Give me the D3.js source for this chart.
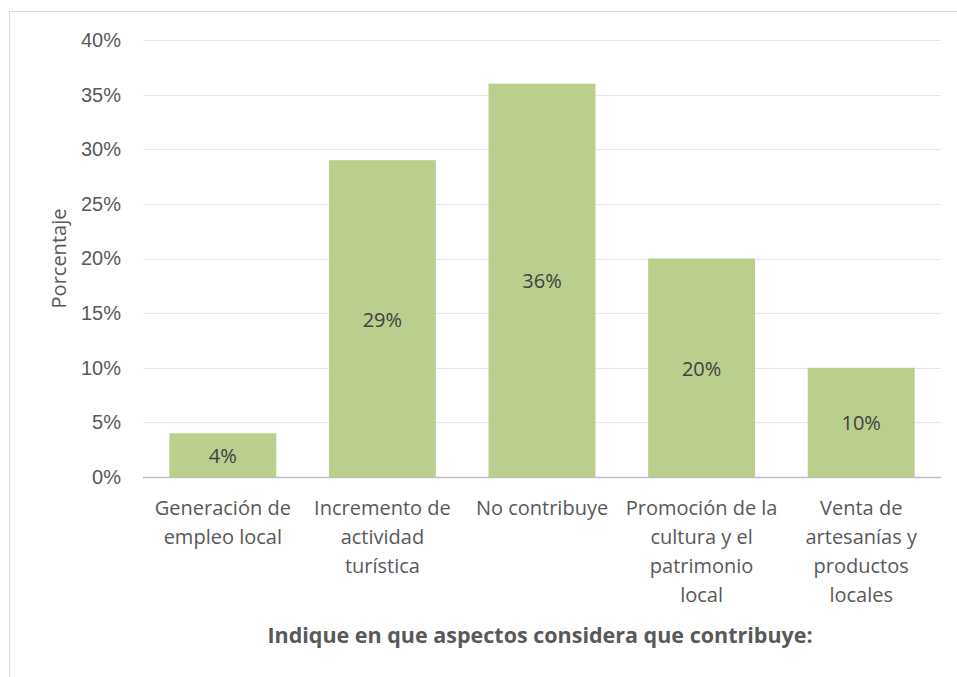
<!DOCTYPE html>
<html>
<head>
<meta charset="utf-8">
<script src="https://cdn.jsdelivr.net/npm/d3@7"></script>
<style>
  body { margin: 0; background: #fff; }
  svg { font-family: "Open Sans", sans-serif; }
</style>
</head>
<body>
<svg width="957" height="677"></svg>
<script>
// datos del grafico
var categories = [
    ["Generación de", "empleo local"],
    ["Incremento de", "actividad", "turística"],
    ["No contribuye"],
    ["Promoción de la", "cultura y el", "patrimonio", "local"],
    ["Venta de", "artesanías y", "productos", "locales"]
];
var values = [0.04, 0.29, 0.36, 0.20, 0.10];
var yTicks = [0, 0.05, 0.10, 0.15, 0.20, 0.25, 0.30, 0.35, 0.40];
var xTitle = "Indique en que aspectos considera que contribuye:";
var yTitle = "Porcentaje";

var svg = d3.select("svg"),
    width = +svg.attr("width"),
    height = +svg.attr("height");

var margin = { top: 40, right: 16, bottom: 200, left: 143 };
var textColor = "#595959";

// marco exterior
svg.append("rect")
    .attr("x", 9.5).attr("y", 11.5)
    .attr("width", width + 10).attr("height", height + 10)
    .attr("fill", "none")
    .attr("stroke", "#d9d9d9");

var x = d3.scaleBand()
    .domain(d3.range(values.length))
    .range([margin.left, width - margin.right])
    .paddingInner(0.33)
    .paddingOuter(0.165);

var y = d3.scaleLinear()
    .domain([0, 0.40])
    .range([height - margin.bottom, margin.top]);

var fmt = d3.format(".0%");

// lineas de cuadricula
svg.append("g")
    .selectAll("line")
    .data(yTicks)
    .enter().append("line")
    .attr("x1", margin.left).attr("x2", width - margin.right)
    .attr("y1", function (d) { return Math.round(y(d)) + 0.5; })
    .attr("y2", function (d) { return Math.round(y(d)) + 0.5; })
    .attr("stroke", function (d) { return d === 0 ? "#bfbfbf" : "#e6e6e6"; })
    .attr("stroke-width", function (d) { return d === 0 ? 1.5 : 1; });

// eje y
var yAxis = svg.append("g")
    .attr("transform", "translate(" + (margin.left - 22) + ",0)")
    .call(d3.axisLeft(y).tickValues(yTicks).tickFormat(fmt).tickSize(0).tickPadding(0));
yAxis.select(".domain").remove();
yAxis.selectAll("text")
    .attr("fill", textColor)
    .style("font-size", "20px")
    .style("font-family", null);

// barras
svg.append("g")
    .selectAll("rect")
    .data(values)
    .enter().append("rect")
    .attr("x", function (d, i) { return x(i); })
    .attr("y", function (d) { return y(d); })
    .attr("width", x.bandwidth())
    .attr("height", function (d) { return y(0) - y(d); })
    .attr("fill", "#bacf8d");

// etiquetas de datos
svg.append("g")
    .selectAll("text")
    .data(values)
    .enter().append("text")
    .attr("x", function (d, i) { return x(i) + x.bandwidth() / 2; })
    .attr("y", function (d) { return (y(d) + y(0)) / 2 + 1; })
    .attr("dy", "0.35em")
    .attr("text-anchor", "middle")
    .attr("fill", "#404040")
    .style("font-size", "20px")
    .text(function (d) { return fmt(d); });

// etiquetas de categorias
var cat = svg.append("g")
    .selectAll("text")
    .data(categories)
    .enter().append("text")
    .attr("text-anchor", "middle")
    .attr("fill", textColor)
    .style("font-size", "20px")
    .attr("transform", function (d, i) {
        return "translate(" + (x(i) + x.bandwidth() / 2) + "," + (y(0) + 38) + ")";
    });
cat.selectAll("tspan")
    .data(function (d) { return d; })
    .enter().append("tspan")
    .attr("x", 0)
    .attr("y", function (d, j) { return j * 29; })
    .text(function (d) { return d; });

// titulo del eje x
svg.append("text")
    .attr("x", (margin.left + width - margin.right) / 2 - 2)
    .attr("y", 643)
    .attr("text-anchor", "middle")
    .attr("fill", textColor)
    .style("font-size", "21.5px")
    .style("font-weight", "bold")
    .text(xTitle);

// titulo del eje y
svg.append("text")
    .attr("transform", "translate(66," + y(0.20) + ") rotate(-90)")
    .attr("text-anchor", "middle")
    .attr("fill", textColor)
    .style("font-size", "20px")
    .text(yTitle);
</script>
</body>
</html>
